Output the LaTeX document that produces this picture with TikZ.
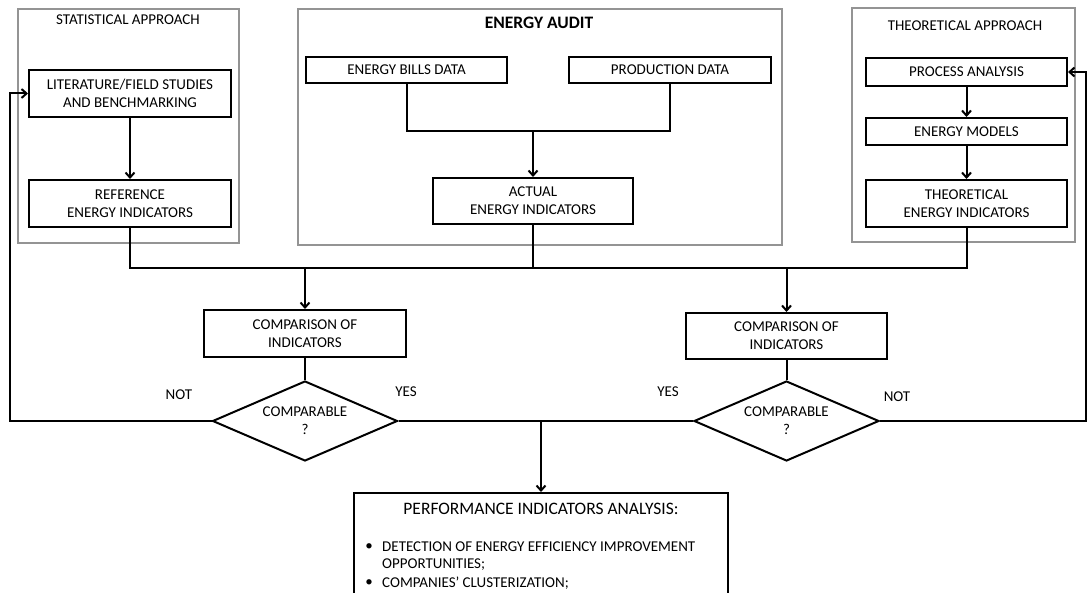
\documentclass[tikz,border=0pt]{standalone}
\usepackage{fontspec}
\setmainfont{Carlito}
\usetikzlibrary{arrows.meta,shapes.geometric}

\begin{document}
\begin{tikzpicture}[x=1pt,y=-1pt,
  every node/.style={font=\fontsize{15}{18}\selectfont},
  group/.style={draw=black!42, line width=2pt, inner sep=0pt},
  grouptitle/.style={inner sep=0pt},
  stepbox/.style={draw, line width=2pt, align=center, inner sep=0pt},
  decision/.style={draw, diamond, shape aspect=2.3, line width=2pt,
    align=center, inner sep=0pt, minimum width=185, minimum height=80},
  link/.style={line width=2pt},
  arr/.style={link, -{Straight Barb[length=5pt,width=9pt]}},
  lbl/.style={inner sep=0pt}
]
\useasboundingbox (0,0) rectangle (1091,593);
\clip (0,0) rectangle (1091,593);

% grouping frames
\node[group, minimum width=221, minimum height=234] (statG) at (128.5,126) {};
\node[group, minimum width=484, minimum height=236] (auditG) at (540,127) {};
\node[group, minimum width=223, minimum height=234] (theoG) at (963.5,125) {};

\node[grouptitle] (statT) at (128,20) {STATISTICAL APPROACH};
\node[grouptitle, font=\fontsize{17.5}{20}\selectfont\bfseries] (auditT) at (539,23) {ENERGY AUDIT};
\node[grouptitle] (theoT) at (965,26) {THEORETICAL APPROACH};

% statistical approach
\node[stepbox, minimum width=202, minimum height=47] (lit) at (130,93.5) {LITERATURE/FIELD STUDIES\\AND BENCHMARKING};
\node[stepbox, minimum width=202, minimum height=47] (ref) at (130,203.5) {REFERENCE\\ENERGY INDICATORS};

% energy audit
\node[stepbox, minimum width=201, minimum height=26] (bills) at (406.5,70) {ENERGY BILLS DATA};
\node[stepbox, minimum width=202, minimum height=26] (prod) at (670,70) {PRODUCTION DATA};
\node[stepbox, minimum width=200, minimum height=46] (actual) at (533,201) {ACTUAL\\ENERGY INDICATORS};

% theoretical approach
\node[stepbox, minimum width=201, minimum height=28] (proc) at (966.5,72) {PROCESS ANALYSIS};
\node[stepbox, minimum width=201, minimum height=27] (models) at (966.5,131.5) {ENERGY MODELS};
\node[stepbox, minimum width=201, minimum height=47] (theoB) at (966.5,203.5) {THEORETICAL\\ENERGY INDICATORS};

% comparisons
\node[stepbox, minimum width=202, minimum height=47] (cmpL) at (305,333.5) {COMPARISON OF\\INDICATORS};
\node[stepbox, minimum width=201, minimum height=46] (cmpR) at (786.5,336) {COMPARISON OF\\INDICATORS};
\node[decision] (diaL) at (305,421) {COMPARABLE\\?};
\node[decision] (diaR) at (786.5,421) {COMPARABLE\\?};

\node[lbl] (notL) at (179,395) {NOT};
\node[lbl] (yesL) at (406,392) {YES};
\node[lbl] (yesR) at (668,392) {YES};
\node[lbl] (notR) at (897,397) {NOT};

% final analysis box (runs past the lower edge)
\node[draw, line width=2pt, anchor=north, minimum width=374, minimum height=140, inner sep=0pt] (perf) at (541,492) {};
\node[lbl, font=\fontsize{17.5}{20}\selectfont] (perfT) at (541,509) {PERFORMANCE INDICATORS ANALYSIS:};
\node[lbl] (bul1) at (369,547) {•};
\node[lbl, anchor=west] (item1) at (382,547) {DETECTION OF ENERGY EFFICIENCY IMPROVEMENT};
\node[lbl, anchor=west] (item1b) at (382,565) {OPPORTUNITIES;};
\node[lbl] (bul2) at (369,583) {•};
\node[lbl, anchor=west] (item2) at (382,583) {COMPANIES’ CLUSTERIZATION;};

% connectors inside the groups
\draw[arr] (lit) -- (ref);
\coordinate (auditJ) at (533,131);
\draw[link] (bills.south) -- (bills.south |- auditJ) -- (prod.south |- auditJ) -- (prod.south);
\draw[arr] (auditJ) -- (actual.north);
\draw[arr] (proc) -- (models);
\draw[arr] (models) -- (theoB);

% indicators to comparisons
\coordinate (jL) at (305,268);
\coordinate (jR) at (786.5,268);
\draw[link] (ref.south) |- (jL);
\draw[link] (actual.south) -- (actual.south |- jL);
\draw[link] (jL) -- (jR);
\draw[link] (theoB.south) |- (jR);
\draw[arr] (jL) -- (cmpL.north);
\draw[arr] (jR) -- (cmpR.north);

\draw[link] (cmpL) -- (diaL);
\draw[link] (cmpR) -- (diaR);

% feedback loops
\coordinate (fbL) at (10,421);
\coordinate (fbR) at (1086,421);
\draw[arr] (diaL.west) -- (fbL) |- (lit.west);
\draw[arr] (diaR.east) -- (fbR) |- (proc.east);

% positive outcome
\coordinate (jB) at (541,421);
\draw[link] (diaL.east) -- (diaR.west);
\draw[arr] (jB) -- (perf.north);
\end{tikzpicture}
\end{document}
